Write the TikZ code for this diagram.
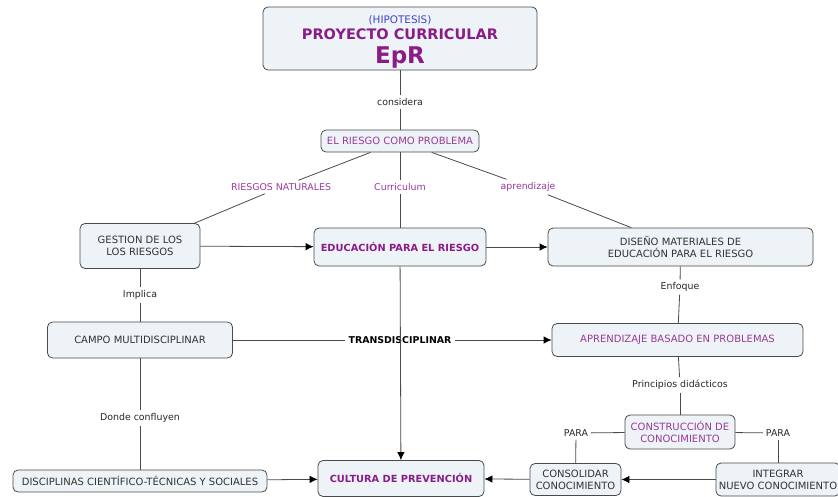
\documentclass[tikz,border=0pt]{standalone}
\usepackage{fontspec}
\setmainfont{DejaVu Sans}
\usetikzlibrary{arrows.meta}

\definecolor{cajafondo}{HTML}{EDF3F6}
\definecolor{cajaborde}{HTML}{4A4A4A}
\definecolor{morado}{HTML}{8A1C8A}
\definecolor{lila}{HTML}{9A3A9A}
\definecolor{azul}{HTML}{4343C9}

\tikzset{
	concepto/.style={draw=cajaborde, fill=cajafondo, rounded corners=5pt, line width=0.8pt,
		align=center, text=black!80, font=\fontsize{10}{12}\selectfont, inner sep=2pt},
	enlace/.style={align=center, text=black!85, font=\fontsize{9.4}{11}\selectfont, inner sep=3pt},
	linea/.style={draw=cajaborde, line width=0.8pt},
	flecha/.style={linea, -{Latex[black, length=8pt, width=7.5pt]}},
}

\begin{document}
\begin{tikzpicture}[x=1pt, y=-1pt]
	\useasboundingbox (0,0) rectangle (838,496);

	% conceptos
	\node[concepto, minimum width=274pt, minimum height=63pt] (epr) at (400,38.5)
		{\rule{0pt}{14pt}{\fontsize{10.4}{12}\selectfont\color{azul}(HIPOTESIS)}\\[3pt]
		 {\fontsize{14.5}{14}\selectfont\bfseries\color{morado}PROYECTO CURRICULAR}\\[6pt]
		 {\fontsize{23}{20}\selectfont\bfseries\color{morado}EpR}};
	\node[concepto, text=lila, minimum width=158pt, minimum height=22pt] (riesgo) at (400,141) {EL RIESGO COMO PROBLEMA};
	\node[concepto, minimum width=120pt, minimum height=45pt] (gestion) at (140,246) {GESTION DE LOS\\LOS RIESGOS};
	\node[concepto, text=morado, font=\fontsize{9.8}{12}\selectfont\bfseries, minimum width=172pt, minimum height=38pt] (educacion) at (400,247) {EDUCACIÓN PARA EL RIESGO};
	\node[concepto, minimum width=265pt, minimum height=38pt] (diseno) at (680.5,247) {DISEÑO MATERIALES DE\\EDUCACIÓN PARA EL RIESGO};
	\node[concepto, minimum width=185pt, minimum height=36pt] (campo) at (140,340) {CAMPO MULTIDISCIPLINAR};
	\node[concepto, text=lila, minimum width=251pt, minimum height=33pt] (abp) at (677.5,340) {APRENDIZAJE BASADO EN PROBLEMAS};
	\node[concepto, text=lila, minimum width=110pt, minimum height=34pt] (construccion) at (680,432) {CONSTRUCCIÓN DE\\CONOCIMIENTO};
	\node[concepto, minimum width=254pt, minimum height=22pt] (disciplinas) at (140,481) {DISCIPLINAS CIENTÍFICO-TÉCNICAS Y SOCIALES};
	\node[concepto, text=morado, font=\fontsize{9.8}{12}\selectfont\bfseries, minimum width=166pt, minimum height=36pt] (cultura) at (401,478.5) {CULTURA DE PREVENCIÓN};
	\node[concepto, minimum width=91pt, minimum height=32pt] (consolidar) at (575.5,479.5) {CONSOLIDAR\\CONOCIMIENTO};
	\node[concepto, minimum width=124pt, minimum height=33pt] (integrar) at (778,479.5) {INTEGRAR\\NUEVO CONOCIMIENTO};

	% frases de enlace
	\node[enlace] (considera) at (400,102) {considera};
	\node[enlace, text=lila] (naturales) at (281,187) {RIESGOS NATURALES};
	\node[enlace, text=lila] (curriculum) at (400,187) {Curriculum};
	\node[enlace, text=lila] (aprendizaje) at (528,187) {aprendizaje};
	\node[enlace] (implica) at (140,295) {Implica};
	\node[enlace, text=black, font=\fontsize{9.4}{11}\selectfont\bfseries] (trans) at (400,340) {TRANSDISCIPLINAR};
	\node[enlace] (enfoque) at (680,287) {Enfoque};
	\node[enlace] (principios) at (680,385) {Principios didácticos};
	\node[enlace] (confluyen) at (140,418) {Donde confluyen};
	\node[enlace] (para1) at (576,433) {PARA};
	\node[enlace] (para2) at (778,433) {PARA};

	% lineas
	\draw[linea] (epr) -- (considera);
	\draw[linea] (considera) -- (riesgo);
	\draw[linea] (riesgo) -- (naturales);
	\draw[linea] (naturales) -- (gestion);
	\draw[linea] (riesgo) -- (curriculum);
	\draw[linea] (curriculum) -- (educacion);
	\draw[linea] (riesgo) -- (aprendizaje);
	\draw[linea] (aprendizaje) -- (diseno);
	\draw[linea] (gestion) -- (implica);
	\draw[linea] (implica) -- (campo);
	\draw[linea] (campo) -- (trans);
	\draw[linea] (campo) -- (confluyen);
	\draw[linea] (confluyen) -- (disciplinas);
	\draw[linea] (diseno) -- (enfoque);
	\draw[linea] (enfoque) -- (abp);
	\draw[linea] (abp) -- (principios);
	\draw[linea] (principios) -- (construccion);
	\draw[linea] (construccion) -- (para1);
	\draw[linea] (para1) -- (consolidar);
	\draw[linea] (construccion) -- (para2);
	\draw[linea] (para2) -- (integrar);

	% flechas
	\draw[flecha] (gestion) -- (educacion);
	\draw[flecha] (educacion) -- (diseno);
	\draw[flecha] (trans) -- (abp);
	\draw[flecha] (educacion) -- (cultura);
	\draw[flecha] (disciplinas) -- (cultura);
	\draw[flecha] (integrar) -- (consolidar);
	\draw[flecha] (consolidar) -- (cultura);
\end{tikzpicture}
\end{document}
